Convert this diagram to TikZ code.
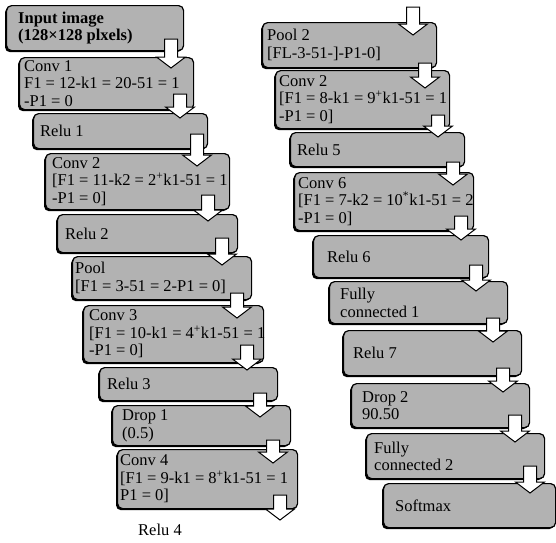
\documentclass[tikz,border=0pt]{standalone}
\usepackage{fontspec}
\setmainfont{Liberation Serif}
\usetikzlibrary{shadows}
\tikzset{
  lay/.style={draw=black, line width=1.2pt, fill=black!30, rounded corners=5pt,
    general shadow={fill=black, shadow xshift=-1.6pt, shadow yshift=-1.6pt},
    anchor=north west, inner sep=0pt},
  txt/.style={align=left, inner sep=0pt, font=\fontsize{16.5}{17.5}\selectfont},
  barrow/.style={draw=black, line width=1pt, fill=white, line join=miter}
}
\newcommand{\layer}[7]{%
  \node[lay, minimum width={(#4-#2)*1pt}, minimum height={(#5-#3)*1pt}] (#1) at (#2,#3) {};
  \node[txt, anchor=west] (#1-t) at ([xshift=#6pt]#1.west) {#7};
}
\newcommand{\barr}[3]{%
  \draw[barrow] (#1-6.5,#3) -- (#1+6.5,#3) -- (#1+6.5,#2-11) -- (#1+14.5,#2-11)
    -- (#1,#2) -- (#1-14.5,#2-11) -- (#1-6.5,#2-11) -- cycle;
}
\begin{document}
\begin{tikzpicture}[x=1pt,y=-1pt]
\useasboundingbox (0,0) rectangle (556,542);
% left column
\layer{inp}{6}{5}{183}{50}{12}{\textbf{Input image}\\\textbf{(128×128 plxels)}}
\layer{conva}{19}{57}{193}{109}{5}{Conv 1\\F1 = 12-k1 = 20-51 = 1\\-P1 = 0}
\layer{relua}{33}{113}{207}{148}{7}{Relu 1}
\layer{convb}{45}{153}{229}{209}{7}{Conv 2\\{[}F1 = 11-k2 = 2\textsuperscript{+}k1-51 = 1\\-P1 = 0]}
\layer{relub}{57}{214}{237}{252}{8}{Relu 2}
\layer{poola}{72}{256}{251}{299}{3}{Pool\\{[}F1 = 3-51 = 2-P1 = 0]}
\layer{convc}{83}{305}{263}{362}{6}{Conv 3\\{[}F1 = 10-k1 = 4\textsuperscript{+}k1-51 = 1\\-P1 = 0]}
\layer{reluc}{99}{367}{277}{400}{8}{Relu 3}
\layer{dropa}{112}{405}{290}{445}{10}{Drop 1\\(0.5)}
\layer{convd}{117}{449}{297}{508}{3}{Conv 4\\{[}F1 = 9-k1 = 8\textsuperscript{+}k1-51 = 1\\P1 = 0]}
\node[txt] (relud) at (160,530) {Relu 4};
% right column
\layer{poolb}{262}{22}{436}{67}{5}{Pool 2\\{[}FL-3-51-]-P1-0]}
\layer{conve}{275}{70}{449}{128}{4}{Conv 2\\{[}F1 = 8-k1 = 9\textsuperscript{+}k1-51 = 1\\-P1 = 0]}
\layer{relue}{290}{132}{464}{166}{7}{Relu 5}
\layer{convf}{294}{172}{473}{230}{4}{Conv 6\\{[}F1 = 7-k2 = 10\textsuperscript{*}k1-51 = 2\\-P1 = 0]}
\layer{reluf}{313}{235}{488}{277}{14}{Relu 6}
\layer{fca}{329}{281}{507}{323}{11}{Fully\\connected 1}
\layer{relug}{343}{330}{521}{375}{10}{Relu 7}
\layer{dropb}{351}{383}{529}{427}{11}{Drop 2\\90.50}
\layer{fcb}{366}{433}{544}{478}{8}{Fully\\connected 2}
\layer{soft}{383}{483}{555}{527}{12}{Softmax}
% arrows left
\barr{171}{68}{39}
\barr{180}{118}{94}
\barr{197}{166}{134}
\barr{208}{221}{195}
\barr{222}{265}{238}
\barr{237}{318}{293}
\barr{247}{370}{345}
\barr{260}{417}{393}
\barr{273}{463}{440}
\barr{280}{520}{495}
% arrows right
\barr{413}{35}{7}
\barr{425}{88}{63}
\barr{438}{137}{115}
\barr{453}{185}{162}
\barr{461}{240}{216}
\barr{476}{291}{265}
\barr{493}{342}{318}
\barr{503}{392}{368}
\barr{515}{442}{415}
\barr{530}{493}{466}
\end{tikzpicture}
\end{document}
